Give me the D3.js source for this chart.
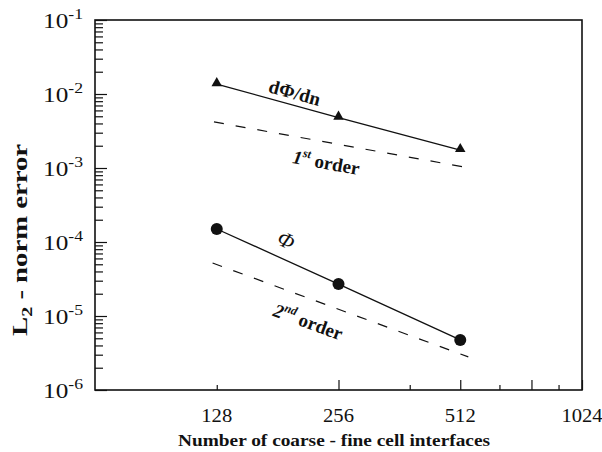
<!DOCTYPE html>
<html>
<head>
<meta charset="utf-8">
<script src="https://cdn.jsdelivr.net/npm/d3@7"></script>
<style>
  html, body { margin: 0; padding: 0; background: #fff; }
  svg { display: block; }
  text { font-family: "Liberation Serif", "Times New Roman", serif; fill: #111; }
</style>
</head>
<body>
<svg id="chart" width="602" height="452"></svg>
<script>
// Convergence of the L2 error norm with the number of coarse/fine interfaces
const interfaces = [128, 256, 512];
const errGradient = [1.36e-2, 4.8e-3, 1.75e-3];   // dPhi/dn
const errPhi = [1.5e-4, 2.7e-5, 4.75e-6];          // Phi

// reference slopes
const firstOrderX = [126, 540];
const firstOrderY = [4.2e-3, 1.0e-3];
const secondOrderX = [125, 536];
const secondOrderY = [5.2e-5, 2.8e-6];

const xTickLabels = [128, 256, 512, 1024];
const xMinorTicks = [128, 384, 640, 896];
const xMajorTicks = [256, 512, 768, 1024];
const yExponents = [-1, -2, -3, -4, -5, -6];

const svg = d3.select("#chart");
const plotLeft = 95, plotRight = 582, plotTop = 20, plotBottom = 390;

const x = d3.scaleLog().base(2).domain([64, 1024]).range([plotLeft, plotRight]);
const y = d3.scaleLog().domain([1e-6, 1e-1]).range([plotBottom, plotTop]);

const ink = "#111";

// frame
svg.append("rect")
  .attr("x", plotLeft).attr("y", plotTop)
  .attr("width", plotRight - plotLeft).attr("height", plotBottom - plotTop)
  .attr("fill", "none").attr("stroke", ink).attr("stroke-width", 1.6);

// left axis ticks (inward)
const yAxis = d3.axisRight(y)
  .tickValues(d3.range(-6, 0).flatMap(e => {
    const base = Math.pow(10, e);
    return e === -1 ? [base] : d3.range(1, 10).map(k => k * base);
  }))
  .tickSize(8).tickSizeOuter(0).tickFormat("");
const gy = svg.append("g").attr("transform", `translate(${plotLeft},0)`).call(yAxis);
gy.select(".domain").remove();
gy.selectAll(".tick line")
  .attr("stroke", ink).attr("stroke-width", 1.2)
  .attr("x2", d => Math.abs(Math.log10(d) - Math.round(Math.log10(d))) < 1e-9 ? 12 : 8);

// y tick labels as 10^n (wide-set serif)
yExponents.forEach(e => {
  const t = svg.append("text")
    .attr("x", 43).attr("y", y(Math.pow(10, e)) + 8)
    .attr("font-size", 20)
    .attr("textLength", 40).attr("lengthAdjust", "spacingAndGlyphs");
  t.append("tspan").text("10");
  t.append("tspan").attr("dy", -9).attr("font-size", 14).text("-" + Math.abs(e));
});

// bottom axis ticks (inward)
const xAxisMajor = d3.axisTop(x).tickValues(xMajorTicks).tickSize(10).tickSizeOuter(0).tickFormat("");
const xAxisMinor = d3.axisTop(x).tickValues(xMinorTicks).tickSize(5).tickSizeOuter(0).tickFormat("");
[xAxisMajor, xAxisMinor].forEach(ax => {
  const g = svg.append("g").attr("transform", `translate(0,${plotBottom})`).call(ax);
  g.select(".domain").remove();
  g.selectAll(".tick line").attr("stroke", ink).attr("stroke-width", 1.2);
});

// x tick labels
svg.selectAll(".xlab").data(xTickLabels).enter().append("text")
  .attr("class", "xlab")
  .attr("x", d => x(d)).attr("y", 422)
  .attr("text-anchor", "middle").attr("font-size", 19)
  .attr("textLength", d => String(d).length * 10.3).attr("lengthAdjust", "spacingAndGlyphs")
  .text(d => d);

// axis titles
svg.append("text")
  .attr("x", 334).attr("y", 446)
  .attr("text-anchor", "middle").attr("font-size", 16.5).attr("font-weight", "bold")
  .attr("textLength", 312).attr("lengthAdjust", "spacingAndGlyphs")
  .text("Number of coarse - fine cell interfaces");

const yt = svg.append("text")
  .attr("transform", "translate(27,240) rotate(-90)")
  .attr("text-anchor", "middle").attr("font-size", 20).attr("font-weight", "bold")
  .attr("textLength", 192).attr("lengthAdjust", "spacingAndGlyphs");
yt.append("tspan").text("L");
yt.append("tspan").attr("dy", 5).attr("font-size", 14).text("2");
yt.append("tspan").attr("dy", -5).text(" - norm error");

const line = d3.line().x(d => x(d[0])).y(d => y(d[1]));

// reference slopes (dashed)
[[firstOrderX, firstOrderY], [secondOrderX, secondOrderY]].forEach(([xs, ys]) => {
  svg.append("path")
    .attr("d", line(d3.zip(xs, ys)))
    .attr("fill", "none").attr("stroke", ink).attr("stroke-width", 1.2)
    .attr("stroke-dasharray", "10,12");
});

// data lines
svg.append("path").attr("d", line(d3.zip(interfaces, errGradient)))
  .attr("fill", "none").attr("stroke", ink).attr("stroke-width", 1.3);
svg.append("path").attr("d", line(d3.zip(interfaces, errPhi)))
  .attr("fill", "none").attr("stroke", ink).attr("stroke-width", 1.3);

// markers
svg.selectAll(".tri").data(d3.zip(interfaces, errGradient)).enter().append("path")
  .attr("class", "tri")
  .attr("d", d3.symbol().type(d3.symbolTriangle).size(48))
  .attr("transform", d => `translate(${x(d[0])},${y(d[1]) - 1})`)
  .attr("fill", ink);
svg.selectAll(".dot").data(d3.zip(interfaces, errPhi)).enter().append("circle")
  .attr("class", "dot")
  .attr("cx", d => x(d[0])).attr("cy", d => y(d[1])).attr("r", 6)
  .attr("fill", ink);

// slope annotations
function angleOf(xs, ys) {
  const dx = x(xs[1]) - x(xs[0]), dy = y(ys[1]) - y(ys[0]);
  return Math.atan2(dy, dx) * 180 / Math.PI;
}
const aGrad = angleOf([interfaces[0], interfaces[2]], [errGradient[0], errGradient[2]]);
const aPhi = angleOf([interfaces[0], interfaces[2]], [errPhi[0], errPhi[2]]);
const aFirst = angleOf(firstOrderX, firstOrderY);
const aSecond = angleOf(secondOrderX, secondOrderY);

svg.append("text")
  .attr("transform", `translate(293,99) rotate(${aGrad})`)
  .attr("text-anchor", "middle").attr("font-size", 19).attr("font-weight", "bold")
  .text("dΦ/dn");

function orderLabel(cx, cy, angle, num, suffix) {
  const t = svg.append("text")
    .attr("transform", `translate(${cx},${cy}) rotate(${angle})`)
    .attr("text-anchor", "middle").attr("font-size", 19).attr("font-weight", "bold");
  t.append("tspan").attr("font-style", "italic").text(num);
  t.append("tspan").attr("dy", -8).attr("font-size", 12).attr("font-style", "italic").text(suffix);
  t.append("tspan").attr("dy", 8).text(" order");
}
orderLabel(325, 169, aFirst, "1", "st");
orderLabel(306, 328, aSecond, "2", "nd");

svg.append("text")
  .attr("transform", `translate(283,247) rotate(${aPhi})`)
  .attr("text-anchor", "middle").attr("font-size", 22).attr("font-style", "italic")
  .text("Φ");
</script>
</body>
</html>
